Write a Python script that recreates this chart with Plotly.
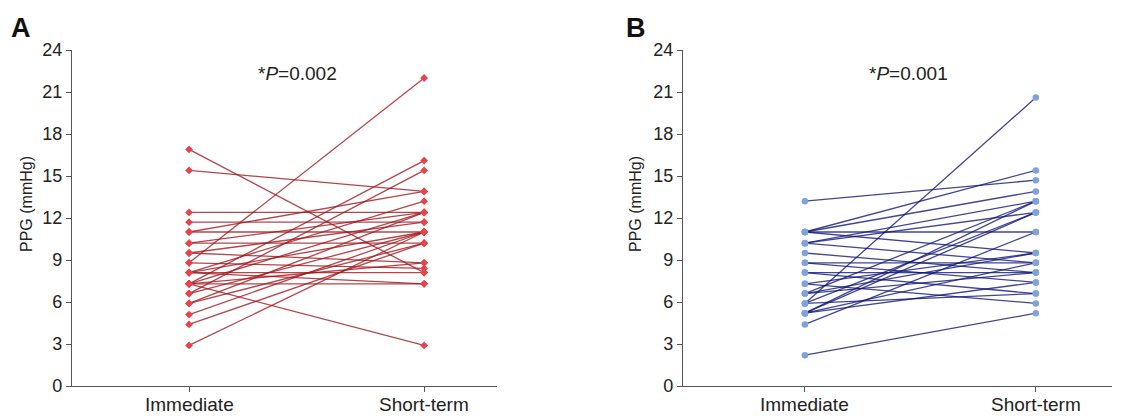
import plotly.graph_objects as go

categories = ["Immediate", "Short-term"]

# Panel A: paired PPG values (mmHg)
a_immediate = [16.9, 15.4, 12.4, 11.7, 11.0, 11.0, 10.2, 10.2, 9.5, 9.5, 8.8, 8.8, 8.1, 8.1,
               8.1, 7.3, 7.3, 7.3, 7.3, 6.6, 6.6, 5.9, 5.1, 4.4, 2.9, 8.1, 7.3, 5.9]
a_shortterm = [8.1, 13.9, 12.4, 11.7, 11.0, 13.9, 10.2, 12.4, 8.8, 11.7, 22.0, 8.4, 11.0, 7.3,
               13.2, 2.9, 7.3, 12.4, 16.1, 15.4, 11.0, 12.4, 11.0, 10.2, 11.0, 8.1, 8.8, 10.2]

# Panel B: paired PPG values (mmHg)
b_immediate = [13.2, 11.0, 11.0, 11.0, 11.0, 10.2, 10.2, 10.2, 9.5, 8.8, 8.8, 8.1, 8.1, 7.3,
               7.3, 6.6, 6.6, 5.9, 5.9, 5.9, 5.2, 5.2, 5.2, 5.2, 4.4, 2.2, 6.6]
b_shortterm = [14.7, 15.4, 13.9, 11.0, 9.5, 13.2, 8.8, 12.4, 8.1, 8.8, 7.4, 8.1, 6.6, 9.5,
               5.9, 13.2, 8.1, 20.6, 12.4, 6.6, 13.2, 12.4, 8.8, 7.4, 11.0, 5.2, 9.5]

p_texts = ["*<i>P</i>=0.002", "*<i>P</i>=0.001"]
panel_labels = ["A", "B"]
y_ticks = [0, 3, 6, 9, 12, 15, 18, 21, 24]

W, H = 1143, 416
fig = go.Figure()

panels = [
    dict(imm=a_immediate, st=a_shortterm, line="rgba(160,24,30,0.8)", mk="#e8424a",
         symbol="diamond", size=6, xa="x", ya="y"),
    dict(imm=b_immediate, st=b_shortterm, line="rgba(18,24,120,0.8)", mk="#7ea3dc",
         symbol="circle", size=6.5, xa="x2", ya="y2"),
]

for p in panels:
    for i0, s0 in zip(p["imm"], p["st"]):
        fig.add_trace(go.Scatter(x=[0, 1], y=[i0, s0], mode="lines",
                                 line=dict(color=p["line"], width=1.3),
                                 xaxis=p["xa"], yaxis=p["ya"], showlegend=False,
                                 hoverinfo="skip"))
    xs = [0] * len(p["imm"]) + [1] * len(p["st"])
    ys = list(p["imm"]) + list(p["st"])
    fig.add_trace(go.Scatter(x=xs, y=ys, mode="markers",
                             marker=dict(color=p["mk"], size=p["size"],
                                         symbol=p["symbol"], line=dict(width=0)),
                             xaxis=p["xa"], yaxis=p["ya"], showlegend=False))

ydom = [(H - 386) / H, (H - 50) / H]
axis_common = dict(showline=True, linecolor="#555555", linewidth=1.2, ticks="outside",
                   ticklen=5, tickcolor="#555555", showgrid=False, zeroline=False,
                   automargin=False)
ytick_font = dict(family="Liberation Sans, Arial", size=18, color="#222222")

x_ranges = [[-0.498, 1.31], [-0.528, 1.33]]
x_domains = [[72 / W, 497 / W], [683 / W, 1112 / W]]

fig.update_layout(
    width=W, height=H, margin=dict(l=0, r=0, t=0, b=0),
    paper_bgcolor="white", plot_bgcolor="white",
    xaxis=dict(domain=x_domains[0], range=x_ranges[0], tickvals=[0, 1],
               showticklabels=False, anchor="y", **axis_common),
    yaxis=dict(domain=ydom, range=[0, 24], tickvals=y_ticks, anchor="x",
               tickfont=ytick_font, **axis_common),
    xaxis2=dict(domain=x_domains[1], range=x_ranges[1], tickvals=[0, 1],
                showticklabels=False, anchor="y2", **axis_common),
    yaxis2=dict(domain=ydom, range=[0, 24], tickvals=y_ticks, anchor="x2",
                tickfont=ytick_font, **axis_common),
)

title_font = dict(family="Liberation Sans, Arial", size=16, color="#222222")
p_font = dict(family="Liberation Sans, Arial", size=19, color="#222222")
cat_font = dict(family="Liberation Sans, Arial", size=19, color="#222222")
ann = []
# category labels under each x tick (placed via the panel's own x axis)
for xref in ["x", "x2"]:
    for i, c in enumerate(categories):
        ann.append(dict(x=i, y=0, xref=xref, yref="paper", text=c, showarrow=False,
                        font=cat_font, xanchor="center", yanchor="bottom", yshift=-1))
for xc in [26, 635]:
    ann.append(dict(x=xc / W, y=(H - 204) / H, xref="paper", yref="paper", text="PPG (mmHg)",
                    textangle=-90, showarrow=False, font=title_font, xanchor="center", yanchor="middle"))
for xc, t in zip([297, 908], p_texts):
    ann.append(dict(x=xc / W, y=(H - 73) / H, xref="paper", yref="paper", text=t,
                    showarrow=False, font=p_font, xanchor="center", yanchor="middle"))
for xc, t in zip([21, 636], panel_labels):
    ann.append(dict(x=xc / W, y=(H - 28) / H, xref="paper", yref="paper", text="<b>" + t + "</b>",
                    showarrow=False, font=dict(family="Liberation Sans, Arial", size=27, color="#111111"),
                    xanchor="center", yanchor="middle"))
fig.update_layout(annotations=ann)

fig.write_html("out.html")
